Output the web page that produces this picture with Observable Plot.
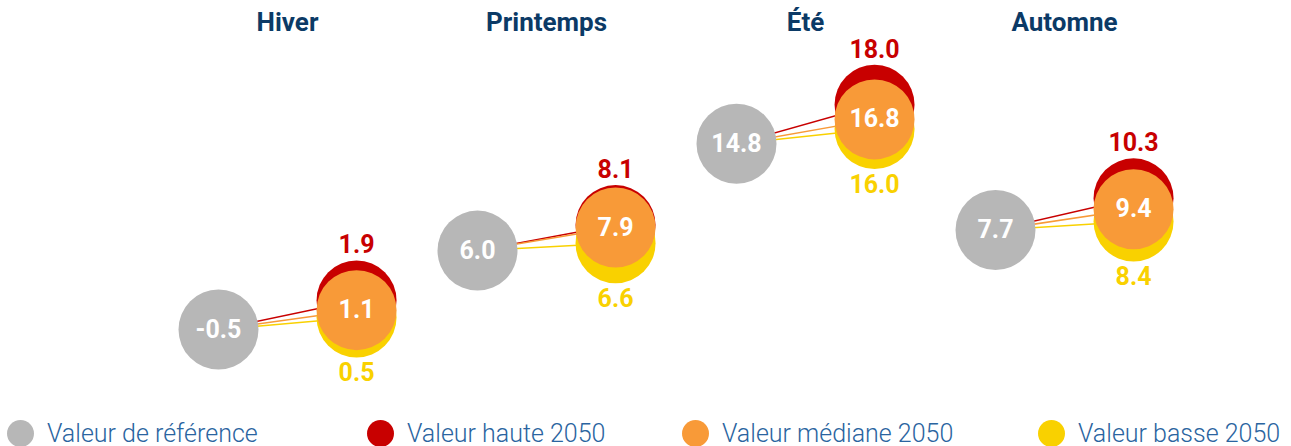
<!DOCTYPE html>
<html>
<head>
<meta charset="utf-8">
<script src="https://cdn.jsdelivr.net/npm/d3@7"></script>
<script src="https://cdn.jsdelivr.net/npm/@observablehq/plot@0.6"></script>
<style>
  html, body { margin: 0; padding: 0; background: #fff; }
  body { width: 1291px; height: 446px; overflow: hidden; font-family: Roboto, sans-serif; }
  #chart svg { display: block; }
  #legend { position: relative; height: 32px; }
  .item { position: absolute; top: 0; height: 32px; display: flex; align-items: center; font-size: 25px; font-weight: 300; color: #2a64a0; white-space: nowrap; }
  .sw { width: 27px; height: 27px; border-radius: 50%; margin-right: 13px; flex: none; }
</style>
</head>
<body>
<div id="chart"></div>
<div id="legend"></div>
<script>
const seasons = ["Hiver", "Printemps", "Été", "Automne"];
const reference = [-0.5, 6.0, 14.8, 7.7];
const haute2050 = [1.9, 8.1, 18.0, 10.3];
const mediane2050 = [1.1, 7.9, 16.8, 9.4];
const basse2050 = [0.5, 6.6, 16.0, 8.4];

const seriesNames = ["Valeur de référence", "Valeur haute 2050", "Valeur médiane 2050", "Valeur basse 2050"];
const seriesColors = ["#b7b7b7", "#c80000", "#f89a38", "#f9d100"];

const OFF = 0.533; // horizontal offset of 2050 column within a season group
const ref = seasons.map((s, i) => ({season: s, x: i, v: reference[i]}));
const hi = seasons.map((s, i) => ({season: s, x: i + OFF, v: haute2050[i]}));
const med = seasons.map((s, i) => ({season: s, x: i + OFF, v: mediane2050[i]}));
const lo = seasons.map((s, i) => ({season: s, x: i + OFF, v: basse2050[i]}));
const links = [
  ...seasons.map((s, i) => ({x1: i, y1: reference[i], x2: i + OFF, y2: haute2050[i], c: seriesColors[1]})),
  ...seasons.map((s, i) => ({x1: i, y1: reference[i], x2: i + OFF, y2: mediane2050[i], c: seriesColors[2]})),
  ...seasons.map((s, i) => ({x1: i, y1: reference[i], x2: i + OFF, y2: basse2050[i], c: seriesColors[3]}))
];
const titles = seasons.map((s, i) => ({season: s, x: i + OFF / 2}));

const H = 417;
const k = 12.15, y0 = 323;
const fmt = v => d3.format(".1f")(v).replace("\u2212", "-");
const R = 40;
const FS = 25;

const chart = Plot.plot({
  width: 1291,
  height: H,
  margin: 0,
  style: {fontFamily: "Roboto, sans-serif", background: "#fff"},
  x: {domain: [-218 / 259, 1073 / 259], range: [0, 1291], axis: null},
  y: {domain: [(y0 - H) / k, y0 / k], range: [H, 0], axis: null},
  marks: [
    Plot.link(links, {x1: "x1", y1: "y1", x2: "x2", y2: "y2", stroke: "c", strokeWidth: 1.5}),
    Plot.dot(lo, {x: "x", y: "v", r: R, fill: seriesColors[3]}),
    Plot.dot(hi, {x: "x", y: "v", r: R, fill: seriesColors[1]}),
    Plot.dot(med, {x: "x", y: "v", r: R, fill: seriesColors[2]}),
    Plot.dot(ref, {x: "x", y: "v", r: R, fill: seriesColors[0]}),
    Plot.text(ref, {x: "x", y: "v", text: d => fmt(d.v), fill: "#fff", fontSize: FS, fontWeight: "bold"}),
    Plot.text(med, {x: "x", y: "v", text: d => fmt(d.v), fill: "#fff", fontSize: FS, fontWeight: "bold"}),
    Plot.text(hi, {x: "x", y: "v", text: d => fmt(d.v), fill: seriesColors[1], fontSize: FS, fontWeight: "bold", dy: -55}),
    Plot.text(lo, {x: "x", y: "v", text: d => fmt(d.v), fill: seriesColors[3], fontSize: FS, fontWeight: "bold", dy: 56}),
    Plot.text(titles, {x: "x", text: "season", frameAnchor: "top", lineAnchor: "middle", dy: 22, fill: "#0b3a66", fontSize: 26, fontWeight: "bold"})
  ]
});
document.getElementById("chart").appendChild(chart);

const legendX = [7, 367, 682, 1038];
const legend = document.getElementById("legend");
seriesNames.forEach((name, i) => {
  const item = document.createElement("div");
  item.className = "item";
  item.style.left = legendX[i] + "px";
  const sw = document.createElement("div");
  sw.className = "sw";
  sw.style.background = seriesColors[i];
  const label = document.createElement("span");
  label.textContent = name;
  item.appendChild(sw);
  item.appendChild(label);
  legend.appendChild(item);
});
</script>
</body>
</html>
